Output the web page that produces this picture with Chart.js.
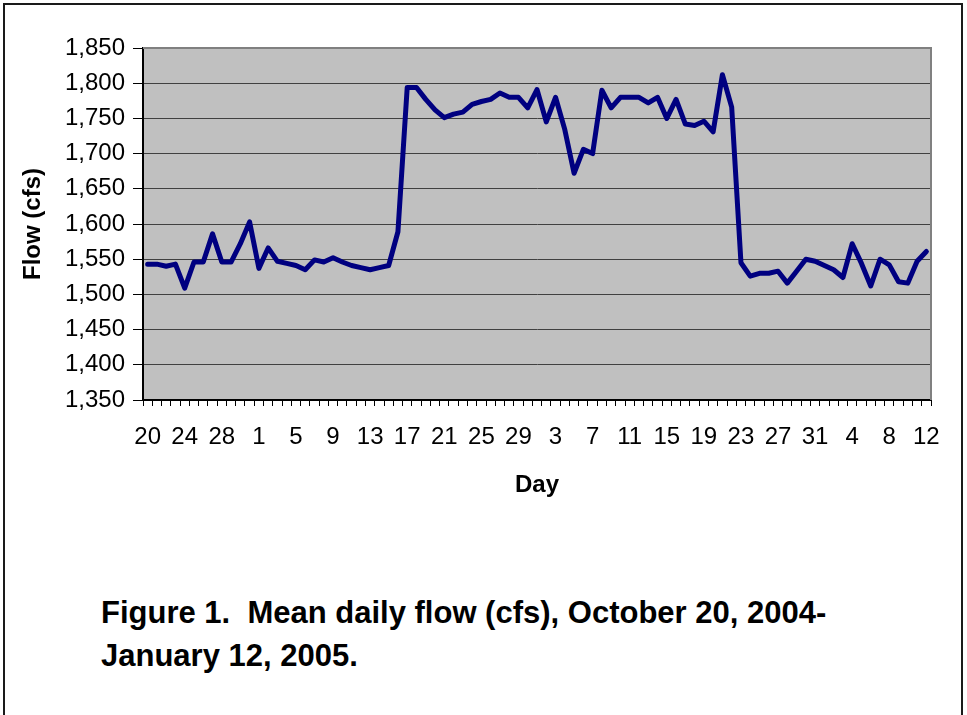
<!DOCTYPE html>
<html>
<head>
<meta charset="utf-8">
<script src="https://cdn.jsdelivr.net/npm/chart.js@4.4.1/dist/chart.umd.min.js"></script>
<style>
  html, body { margin: 0; padding: 0; background: #fff; overflow: hidden; }
  body { width: 967px; height: 715px; position: relative; }
  #frame { position: absolute; left: 3px; top: 3px; width: 960px; height: 730px; border: 2px solid #1a1a1a; box-sizing: border-box; }
  #wrap { position: absolute; left: 0; top: 0; width: 967px; height: 500px; }
  #caption { position: absolute; left: 101px; top: 591px; font-family: "Liberation Sans", Arial, sans-serif; font-weight: bold; font-size: 31px; line-height: 43px; color: #000; white-space: pre; }
</style>
</head>
<body>
<div id="frame"></div>
<div id="wrap"><canvas id="c"></canvas></div>
<div id="caption">Figure 1.  Mean daily flow (cfs), October 20, 2004-
January 12, 2005.</div>
<script>
// Day-of-month categories: Oct 20, 2004 .. Jan 12, 2005
const octDays = ['20','21','22','23','24','25','26','27','28','29','30','31'];
const novDays = ['1','2','3','4','5','6','7','8','9','10','11','12','13','14','15','16','17','18','19','20','21','22','23','24','25','26','27','28','29','30'];
const decDays = ['1','2','3','4','5','6','7','8','9','10','11','12','13','14','15','16','17','18','19','20','21','22','23','24','25','26','27','28','29','30','31'];
const janDays = ['1','2','3','4','5','6','7','8','9','10','11','12'];
const dayLabels = octDays.concat(novDays, decDays, janDays);

// Mean daily flow (cfs)
const flowOct = [1543,1543,1540,1543,1509,1546,1546,1586,1546,1546,1572,1603];
const flowNov = [1537,1566,1547,1544,1541,1535,1549,1546,1552,1546,1541,1538,1535,1538,1541,1589,1794,1794,1777,1762,1751,1756,1759,1770,1774,1777,1786,1780,1780,1765];
const flowDec = [1791,1745,1780,1734,1672,1706,1700,1790,1765,1780,1780,1780,1772,1780,1750,1777,1742,1740,1746,1731,1812,1766,1545,1526,1530,1530,1533,1516,1533,1550,1547];
const flowJan = [1541,1535,1524,1572,1544,1512,1550,1542,1518,1516,1547,1561];
const flow = flowOct.concat(flowNov, flowDec, flowJan);

const yMin = 1350, yMax = 1850, yStep = 50;
const labelEvery = 4;

const FONT = '"Liberation Sans", Arial, sans-serif';

const plotBg = {
  id: 'plotBg',
  beforeDraw(chart) {
    const {ctx, chartArea: a} = chart;
    ctx.save();
    ctx.fillStyle = '#C0C0C0';
    ctx.fillRect(a.left, a.top, a.right - a.left, a.bottom - a.top);
    ctx.restore();
  },
  beforeDatasetsDraw(chart) {
    const {ctx, chartArea: a} = chart;
    ctx.save();
    ctx.strokeStyle = '#808080';
    ctx.lineWidth = 2;
    ctx.beginPath();
    ctx.moveTo(a.left, a.top);
    ctx.lineTo(a.right, a.top);
    ctx.lineTo(a.right, a.bottom);
    ctx.stroke();
    ctx.restore();
  }
};

new Chart(document.getElementById('c'), {
  type: 'line',
  data: {
    labels: dayLabels,
    datasets: [{
      data: flow,
      borderColor: '#000080',
      borderWidth: 5,
      pointRadius: 0,
      tension: 0,
      borderJoinStyle: 'round',
      borderCapStyle: 'round',
      fill: false
    }]
  },
  options: {
    responsive: true,
    maintainAspectRatio: false,
    devicePixelRatio: 1,
    animation: false,
    layout: { padding: { left: 0, top: 48, right: 36, bottom: 0 } },
    plugins: { legend: { display: false }, tooltip: { enabled: false }, title: { display: false } },
    scales: {
      x: {
        type: 'category',
        offset: true,
        grid: { offset: true, drawOnChartArea: false, drawTicks: true, tickLength: 6, color: '#000', tickColor: '#000', lineWidth: 1 },
        border: { display: true, color: '#000', width: 2 },
        ticks: {
          autoSkip: false, maxRotation: 0, minRotation: 0, padding: 17,
          color: '#000', font: { family: FONT, size: 24 },
          callback: function(v, i) { return i % labelEvery === 0 ? dayLabels[i] : ''; }
        },
        title: { display: true, text: 'Day', color: '#000', font: { family: FONT, size: 24, weight: 'bold' }, padding: { top: 0, bottom: 0 } },
        afterFit(scale) { scale.height = 100; }
      },
      y: {
        min: yMin, max: yMax,
        grid: { color: '#404040', tickColor: '#000', tickLength: 10, lineWidth: 1 },
        border: { display: true, color: '#000', width: 2 },
        ticks: {
          stepSize: yStep, padding: 8, color: '#000', font: { family: FONT, size: 24 },
          callback: function(v) { return Number(v).toLocaleString('en-US'); }
        },
        title: { display: true, text: 'Flow (cfs)', color: '#000', font: { family: FONT, size: 24, weight: 'bold' }, padding: { top: 19, bottom: 0 } },
        afterFit(scale) { scale.width = 143; }
      }
    }
  },
  plugins: [plotBg]
});
</script>
</body>
</html>
